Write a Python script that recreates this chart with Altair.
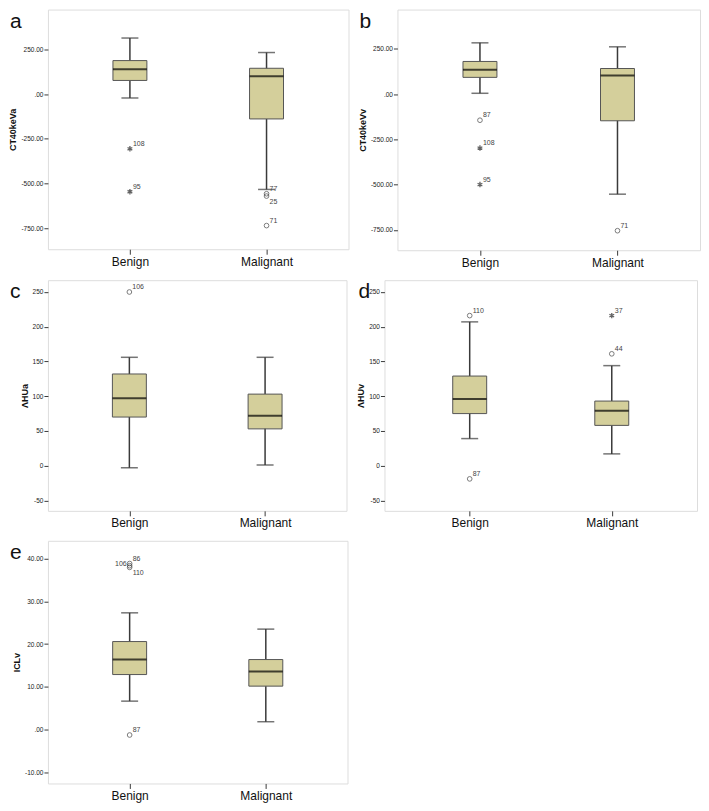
import altair as alt
import pandas as pd

groups = ["Benign", "Malignant"]
panel_letters = ["a", "b", "c", "d", "e"]
y_titles = ["CT40keVa", "CT40keVv", "ΛHUa", "ΛHUv", "ICLv"]

# [lower whisker, Q1, median, Q3, upper whisker]
a_benign = [-22, 76, 139, 187, 313]
a_malignant = [-533, -139, 100, 144, 232]
b_benign = [5, 93, 135, 181, 284]
b_malignant = [-553, -147, 104, 142, 262]
c_benign = [-3, 70, 97, 132, 156]
c_malignant = [1, 53, 72, 103, 156]
d_benign = [39, 75, 96, 129, 207]
d_malignant = [17, 58, 79, 93, 144]
e_benign = [6.7, 12.9, 16.4, 20.6, 27.3]
e_malignant = [1.9, 10.2, 13.6, 16.4, 23.5]

# outliers: group, value, case id, marker ("o" outlier / "*" extreme), label side
a_outliers = [("Benign", -306, "108", "*", "ne"), ("Benign", -546, "95", "*", "ne"),
              ("Malignant", -557, "77", "o", "ne"), ("Malignant", -570, "25", "o", "se"),
              ("Malignant", -735, "71", "o", "ne")]
b_outliers = [("Benign", -144, "87", "o", "ne"), ("Benign", -298, "108", "*", "ne"),
              ("Benign", -500, "95", "*", "ne"), ("Malignant", -755, "71", "o", "ne")]
c_outliers = [("Benign", 250, "106", "o", "ne")]
d_outliers = [("Benign", 216, "110", "o", "ne"), ("Benign", -19, "87", "o", "ne"),
              ("Malignant", 216, "37", "*", "ne"), ("Malignant", 161, "44", "o", "ne")]
e_outliers = [("Benign", 38.8, "86", "o", "ne"), ("Benign", 38.3, "106", "o", "w"),
              ("Benign", 37.9, "110", "o", "se"), ("Benign", -1.2, "87", "o", "ne")]

y_domains = [[-867, 472], [-863, 468], [-65, 267], [-65, 267], [-12.5, 44.1]]
y_ticks = [[-750, -500, -250, 0, 250], [-750, -500, -250, 0, 250],
           [-50, 0, 50, 100, 150, 200, 250], [-50, 0, 50, 100, 150, 200, 250],
           [-10, 0, 10, 20, 30, 40]]
decimals = [True, True, False, False, True]

summaries = [(a_benign, a_malignant), (b_benign, b_malignant), (c_benign, c_malignant),
             (d_benign, d_malignant), (e_benign, e_malignant)]
outliers = [a_outliers, b_outliers, c_outliers, d_outliers, e_outliers]
sizes = [(301, 240), (303, 241), (299, 231), (313, 231), (300, 243)]

BOX_FILL = "#d4cf9b"
LINE = "#3a3a3a"
ASTERISK = "M0,-1L0,1M-0.87,-0.5L0.87,0.5M-0.87,0.5L0.87,-0.5"


def make_panel(i):
    ben, mal = summaries[i]
    box = pd.DataFrame({
        "group": groups,
        "low": [ben[0], mal[0]], "q1": [ben[1], mal[1]], "med": [ben[2], mal[2]],
        "q3": [ben[3], mal[3]], "high": [ben[4], mal[4]],
    })
    out = pd.DataFrame(outliers[i], columns=["group", "value", "case", "kind", "side"])
    w, h = sizes[i]
    if decimals[i]:
        lab = "datum.value == 0 ? '.00' : (datum.value < 0 ? '-' : '') + format(abs(datum.value), '.2f')"
    else:
        lab = "(datum.value < 0 ? '-' : '') + format(abs(datum.value), 'd')"
    x = alt.X("group:N", sort=groups, title=None,
              scale=alt.Scale(type="point", padding=0.6),
              axis=alt.Axis(labelAngle=0, labelFontSize=12, labelColor="#111",
                            labelFont="Liberation Sans", tickSize=5, tickColor=LINE,
                            domain=False, labelPadding=2))
    yscale = alt.Scale(domain=y_domains[i], nice=False, zero=False)
    yaxis = alt.Axis(values=y_ticks[i], labelExpr=lab, labelFontSize=6.5, labelColor="#222",
                     labelFont="Liberation Sans", tickSize=4, tickColor=LINE, domain=False,
                     labelOverlap=False, labelBound=False,
                     grid=False, title=y_titles[i], titleFontSize=9, titleFont="Liberation Sans",
                     titleFontWeight="bold", titleColor="#111", titlePadding=3, labelPadding=1)

    def Y(field):
        return alt.Y(field, scale=yscale, axis=yaxis, title=y_titles[i])

    base = alt.Chart(box).encode(x=x)
    whisk = base.mark_rule(color=LINE, strokeWidth=1.5).encode(y=Y("low:Q"), y2="high:Q")
    cap_lo = base.mark_tick(color=LINE, size=17, thickness=1.5).encode(y=Y("low:Q"))
    cap_hi = base.mark_tick(color=LINE, size=17, thickness=1.5).encode(y=Y("high:Q"))
    boxes = base.mark_bar(size=34, fill=BOX_FILL, stroke="#555", strokeWidth=1).encode(
        y=Y("q1:Q"), y2="q3:Q")
    med = base.mark_tick(color="#000", size=34, thickness=2).encode(y=Y("med:Q"))
    obase = alt.Chart(out).encode(x=x, y=Y("value:Q"))
    circ = obase.transform_filter("datum.kind == 'o'").mark_point(
        shape="circle", filled=False, size=22, color="#444", strokeWidth=1)
    star = obase.transform_filter("datum.kind == '*'").mark_point(
        shape=ASTERISK, filled=False, size=30, color="#222", strokeWidth=1.3)
    tne = obase.transform_filter("datum.side == 'ne'").mark_text(
        align="left", dx=3, dy=-5, fontSize=7, color="#444", font="Liberation Sans").encode(text="case:N")
    tse = obase.transform_filter("datum.side == 'se'").mark_text(
        align="left", dx=3, dy=6, fontSize=7, color="#444", font="Liberation Sans").encode(text="case:N")
    tw = obase.transform_filter("datum.side == 'w'").mark_text(
        align="right", dx=-3, dy=-2, fontSize=7, color="#444", font="Liberation Sans").encode(text="case:N")
    letter = alt.Chart(pd.DataFrame({"t": [panel_letters[i]]})).mark_text(
        fontSize=21, font="Liberation Sans", align="left", baseline="top", color="#111"
    ).encode(text="t:N", x=alt.value(-38 if i != 3 else -26), y=alt.value(1))
    return alt.layer(whisk, cap_lo, cap_hi, boxes, med, circ, star, tne, tse, tw, letter).properties(
        width=w, height=h)


row1 = alt.hconcat(make_panel(0), make_panel(1), spacing=8)
row2 = alt.hconcat(make_panel(2), make_panel(3), spacing=8)
row3 = alt.hconcat(make_panel(4), spacing=8)
chart = alt.vconcat(row1, row2, row3, spacing=10).configure_view(
    stroke="#8a8a8a", strokeWidth=1).configure_axis(labelOverlap=False).configure(
    background="white", padding=0)

chart.save("out.html", embed_options={"renderer": "svg", "actions": False})
